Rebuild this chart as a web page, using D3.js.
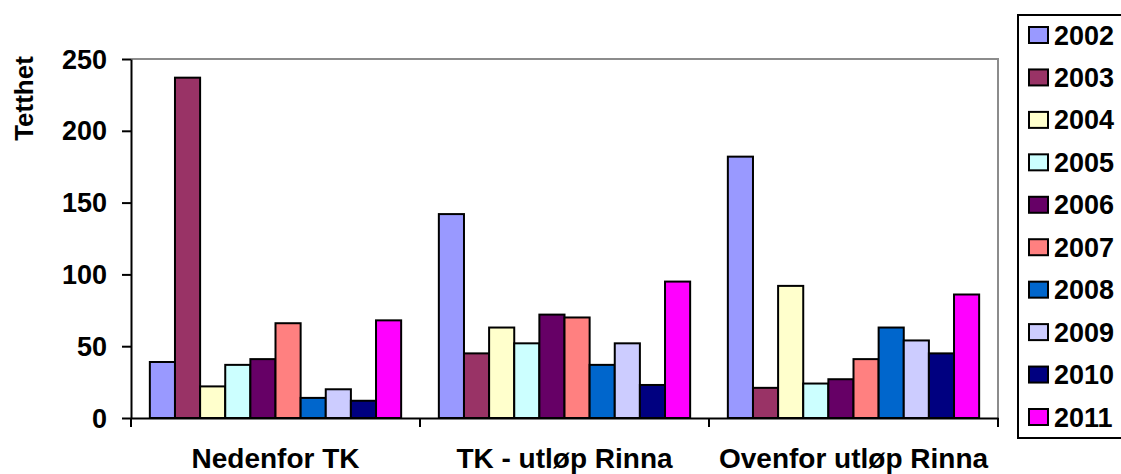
<!DOCTYPE html>
<html>
<head>
<meta charset="utf-8">
<script src="https://cdn.jsdelivr.net/npm/d3@7"></script>
<style>
  html, body { margin: 0; padding: 0; background: #fff; }
  svg text { font-family: "Liberation Sans", Arial, sans-serif; font-weight: bold; fill: #000; }
</style>
</head>
<body>
<svg id="chart" width="1121" height="474"></svg>
<script>
// ---- data ----
const categories = ["Nedenfor TK", "TK - utløp Rinna", "Ovenfor utløp Rinna"];
const years = ["2002", "2003", "2004", "2005", "2006", "2007", "2008", "2009", "2010", "2011"];
const valuesNedenfor = [39, 237, 22, 37, 41, 66, 14, 20, 12, 68];
const valuesTkUtlop  = [142, 45, 63, 52, 72, 70, 37, 52, 23, 95];
const valuesOvenfor  = [182, 21, 92, 24, 27, 41, 63, 54, 45, 86];
const yearColors = ["#9999FF", "#993366", "#FFFFCC", "#CCFFFF", "#660066", "#FF8080", "#0066CC", "#CCCCFF", "#000080", "#FF00FF"];
const yTicks = [0, 50, 100, 150, 200, 250];
const yTitle = "Tetthet";

const siteValues = [valuesNedenfor, valuesTkUtlop, valuesOvenfor];
const table = categories.map((c, i) => ({ category: c, values: years.map((y, j) => ({ year: y, value: siteValues[i][j], color: yearColors[j] })) }));

// ---- layout ----
const svg = d3.select("#chart");
const plot = { left: 131, right: 998, top: 59, bottom: 418 };
const FONT = "'Liberation Sans', Arial, sans-serif";

const x0 = d3.scaleBand().domain(categories).range([plot.left, plot.right]).padding(0);
const bw = x0.bandwidth();
const gapFrac = 0.75 / 11.5; // Excel gap width 150%
const x1 = d3.scaleBand().domain(years).range([bw * gapFrac, bw * (1 - gapFrac)]).padding(0);
const y = d3.scaleLinear().domain([0, 250]).range([plot.bottom, plot.top]);

// plot area border (top & right gray)
svg.append("path")
  .attr("d", `M${plot.left},${plot.top}H${plot.right}V${plot.bottom}`)
  .attr("fill", "none").attr("stroke", "#8c8c8c").attr("stroke-width", 2);

// bars
const groups = svg.selectAll("g.cat").data(table).join("g")
  .attr("class", "cat")
  .attr("transform", d => `translate(${x0(d.category)},0)`);
groups.selectAll("rect").data(d => d.values).join("rect")
  .attr("x", d => x1(d.year))
  .attr("y", d => y(d.value))
  .attr("width", x1.bandwidth())
  .attr("height", d => y(0) - y(d.value))
  .attr("fill", d => d.color)
  .attr("stroke", "#000").attr("stroke-width", 2);

// y axis
const yAxis = svg.append("g").attr("transform", `translate(${plot.left},0)`)
  .call(d3.axisLeft(y).tickValues(yTicks).tickSize(9).tickPadding(15).tickSizeOuter(0));
yAxis.select(".domain").attr("stroke", "#000").attr("stroke-width", 2);
yAxis.selectAll(".tick line").attr("stroke", "#000").attr("stroke-width", 2);
yAxis.selectAll(".tick text").attr("font-size", 27).style("font-family", FONT).style("font-weight", "bold").attr("dy", "0.34em");

// x axis line and category tick marks
const xAxis = svg.append("g").attr("transform", `translate(0,${plot.bottom})`)
  .call(d3.axisBottom(x0).tickSize(0).tickPadding(30));
xAxis.select(".domain").attr("stroke", "#000").attr("stroke-width", 2);
xAxis.selectAll(".tick text").attr("font-size", 28).style("font-family", FONT).style("font-weight", "bold");
const boundaries = categories.map(c => x0(c)).concat([x0(categories[categories.length - 1]) + bw]);
xAxis.selectAll("line.bound").data(boundaries).join("line")
  .attr("class", "bound")
  .attr("x1", d => d).attr("x2", d => d)
  .attr("y1", 0).attr("y2", 9)
  .attr("stroke", "#000").attr("stroke-width", 2);

// y title
svg.append("text")
  .attr("transform", "translate(33,98.5) rotate(-90)")
  .attr("text-anchor", "middle")
  .attr("font-size", 26)
  .text(yTitle);

// legend
const legend = svg.append("g");
legend.append("rect")
  .attr("x", 1018).attr("y", 15).attr("width", 120).attr("height", 423)
  .attr("fill", "#fff").attr("stroke", "#000").attr("stroke-width", 2);
const ly = d3.scalePoint().domain(years).range([35, 417]);
const items = legend.selectAll("g.item").data(years.map((yr, i) => ({ year: yr, color: yearColors[i] }))).join("g")
  .attr("class", "item")
  .attr("transform", d => `translate(0,${ly(d.year)})`);
items.append("rect")
  .attr("x", 1029).attr("y", -8).attr("width", 19).attr("height", 16)
  .attr("fill", d => d.color).attr("stroke", "#000").attr("stroke-width", 2);
items.append("text")
  .attr("x", 1054).attr("y", 9.5)
  .attr("font-size", 27)
  .text(d => d.year);
</script>
</body>
</html>
